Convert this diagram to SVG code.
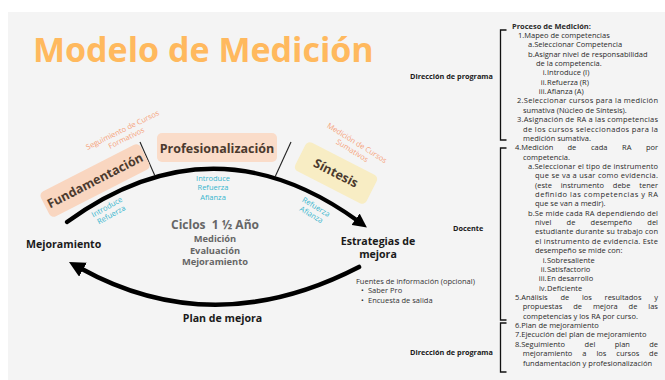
<svg xmlns="http://www.w3.org/2000/svg" width="665" height="380" viewBox="0 0 665 380">
<defs>
<style>
text{font-family:"Open Sans","Noto Sans","Liberation Sans",sans-serif}
.title{font-size:34px;font-weight:700;fill:#FFB95E}
.stage{font-size:12.5px;font-weight:700;fill:#4B3A2E;text-anchor:middle}
.note{font-size:7.5px;fill:#F5A27A;text-anchor:middle}
.blue{font-size:7.5px;fill:#36B4CE;text-anchor:middle}
.cyc{font-weight:700;fill:#666;text-anchor:middle}
.lab{font-size:10.6px;font-weight:700;fill:#1a1a1a}
.src{font-size:7.5px;fill:#333}
.li{font-size:7.5px;fill:#2a2a2a}
.bold{font-weight:700}
.role{font-size:7.3px;font-weight:700;fill:#1a1a1a}
.arc{fill:none;stroke:#000;stroke-linecap:round}
.tick{stroke:#222;stroke-width:1.1}
.br{fill:none;stroke:#111;stroke-width:1.3}
</style>
<marker id="ah" viewBox="0 0 14 14" refX="3" refY="7" markerWidth="14" markerHeight="14" markerUnits="userSpaceOnUse" orient="auto">
<path d="M0,0 L14,7 L0,14 z" fill="#000"/>
</marker>
<marker id="ah2" viewBox="0 0 14 14" refX="3" refY="7" markerWidth="16" markerHeight="16" markerUnits="userSpaceOnUse" orient="auto">
<path d="M0,0 L14,7 L0,14 z" fill="#000"/>
</marker>
</defs>
<rect x="0" y="0" width="665" height="380" fill="#fff"/>
<rect x="8" y="12" width="657" height="368" fill="#F4F4F4"/>
<text class="title" x="33" y="62">Modelo de Medición</text>

<g id="connectors">
<path class="arc" d="M67,222 Q213,116 358,221" stroke-width="4.2" marker-end="url(#ah)"/>
<path class="arc" d="M359,267 Q213.5,342 80,268" stroke-width="4.6" marker-end="url(#ah2)"/>
<line class="tick" x1="140" y1="142" x2="155" y2="176"/>
<line class="tick" x1="291" y1="142" x2="275" y2="177"/>
</g>

<g id="fundamentacion">
<rect x="-56" y="-14" width="112" height="28" rx="5" fill="#F9D6C0" transform="translate(95,180.5) rotate(-27)"/>
<text class="stage" transform="translate(95,180.5) rotate(-27)" x="0" y="4.5">Fundamentación</text>
</g>
<g id="profesionalizacion">
<rect x="157" y="133" width="120" height="29" rx="5" fill="#FADCC9"/>
<text class="stage" x="217" y="152.5">Profesionalización</text>
</g>
<g id="sintesis">
<rect x="-40" y="-16" width="80" height="32" rx="5" fill="#F8EDC4" transform="translate(336,173) rotate(27)"/>
<text class="stage" transform="translate(336,173) rotate(27)" x="0" y="4.5">Síntesis</text>
</g>

<g id="notes">
<g transform="translate(122.5,130) rotate(-26)">
<text class="note" x="0" y="2.5">Seguimiento de Cursos</text>
<text class="note" x="0" y="11.5">Formativos</text>
</g>
<g transform="translate(357,143) rotate(32)">
<text class="note" x="0" y="2.5">Medición de Cursos</text>
<text class="note" x="0" y="11.5">Sumativos</text>
</g>
<g transform="translate(107,207) rotate(-29)">
<text class="blue" x="0" y="2.5">Introduce</text>
<text class="blue" x="0" y="11.5">Refuerza</text>
</g>
<text class="blue" x="213" y="181">Introduce</text>
<text class="blue" x="213" y="190">Refuerza</text>
<text class="blue" x="213" y="199.5">Afianza</text>
<g transform="translate(316,207) rotate(31)">
<text class="blue" x="0" y="2.5">Refuerza</text>
<text class="blue" x="0" y="11.5">Afianza</text>
</g>
</g>

<g id="ciclos">
<text class="cyc" x="215" y="229" font-size="12" xml:space="preserve">Ciclos  1 ½ Año</text>
<text class="cyc" x="215" y="241.5" font-size="9.3">Medición</text>
<text class="cyc" x="215" y="253.5" font-size="9.3">Evaluación</text>
<text class="cyc" x="215" y="265" font-size="9.3">Mejoramiento</text>
</g>

<g id="mejoramiento"><text class="lab" x="26" y="247.5">Mejoramiento</text></g>
<g id="estrategias">
<text class="lab" x="378" y="244.5" text-anchor="middle">Estrategias de</text>
<text class="lab" x="378" y="258" text-anchor="middle">mejora</text>
</g>
<g id="plan"><text class="lab" x="222.5" y="321.5" text-anchor="middle">Plan de mejora</text></g>

<g id="fuentes">
<text class="src" x="356" y="284">Fuentes de información (opcional)</text>
<text class="src" x="361" y="293.3">•</text><text class="src" x="368" y="293.3">Saber Pro</text>
<text class="src" x="361" y="302.7">•</text><text class="src" x="368" y="302.7">Encuesta de salida</text>
</g>

<g id="roles">
<text class="role" x="410" y="79">Dirección de programa</text>
<text class="role" x="453" y="231">Docente</text>
<text class="role" x="410" y="354.5">Dirección de programa</text>
<path class="br" d="M506.5,30 H500.5 V140 H506.5"/>
<path class="br" d="M506.5,148 H500.5 V320 H506.5"/>
<path class="br" d="M506.5,323 H500.5 V372 H506.5"/>
</g>

<g id="proceso">
<text class="li bold" x="512" y="28.5">Proceso de Medición:</text>
<text class="li" x="518" y="37.9">1.Mapeo de competencias</text>
<text class="li" x="528" y="47.2">a.Seleccionar Competencia</text>
<text class="li" x="528" y="56.6">b.Asignar nivel de responsabilidad</text>
<text class="li" x="536" y="65.9">de la competencia.</text>
<text class="li" x="546.5" y="75.3" text-anchor="end">i.</text><text class="li" x="547" y="75.3">Introduce (I)</text>
<text class="li" x="546.5" y="84.7" text-anchor="end">ii.</text><text class="li" x="547" y="84.7">Refuerza (R)</text>
<text class="li" x="546.5" y="94" text-anchor="end">iii.</text><text class="li" x="547" y="94">Afianza (A)</text>
<text class="li" x="517" y="103.4" textLength="141" lengthAdjust="spacing">2.Seleccionar cursos para la medición</text>
<text class="li" x="523" y="112.7">sumativa (Núcleo de Síntesis).</text>
<text class="li" x="517" y="122.1" textLength="141" lengthAdjust="spacing">3.Asignación de RA a las competencias</text>
<text class="li" x="523" y="131.5" textLength="135" lengthAdjust="spacing">de los cursos seleccionados para la</text>
<text class="li" x="523" y="140.8">medición sumativa.</text>
<text class="li" y="150.2"><tspan x="515">4.Medición</tspan><tspan x="567.5">de</tspan><tspan x="591">cada</tspan><tspan x="622">RA</tspan><tspan x="646">por</tspan></text>
<text class="li" x="523" y="159.5">competencia.</text>
<text class="li" x="528" y="168.9" textLength="130" lengthAdjust="spacing">a.Seleccionar el tipo de instrumento</text>
<text class="li" x="535" y="178.3" textLength="123" lengthAdjust="spacing">que se va a usar como evidencia.</text>
<text class="li" y="187.6"><tspan x="535">(este</tspan><tspan x="560.7">instrumento</tspan><tspan x="612.8">debe</tspan><tspan x="639.3">tener</tspan></text>
<text class="li" x="535" y="197" textLength="123" lengthAdjust="spacing">definido las competencias y RA</text>
<text class="li" x="535" y="206.3">que se van a medir).</text>
<text class="li" x="528" y="215.7" textLength="130" lengthAdjust="spacing">b.Se mide cada RA dependiendo del</text>
<text class="li" y="225.1"><tspan x="535">nivel</tspan><tspan x="566.6">de</tspan><tspan x="590.6">desempeño</tspan><tspan x="647.3">del</tspan></text>
<text class="li" x="535" y="234.4" textLength="123" lengthAdjust="spacing">estudiante durante su trabajo con</text>
<text class="li" x="535" y="243.8" textLength="123" lengthAdjust="spacing">el instrumento de evidencia. Este</text>
<text class="li" x="535" y="253.1">desempeño se mide con:</text>
<text class="li" x="546.5" y="262.5" text-anchor="end">i.</text><text class="li" x="547" y="262.5">Sobresaliente</text>
<text class="li" x="546.5" y="271.9" text-anchor="end">ii.</text><text class="li" x="547" y="271.9">Satisfactorio</text>
<text class="li" x="546.5" y="281.2" text-anchor="end">iii.</text><text class="li" x="547" y="281.2">En desarrollo</text>
<text class="li" x="546.5" y="290.6" text-anchor="end">iv.</text><text class="li" x="547" y="290.6">Deficiente</text>
<text class="li" y="299.9"><tspan x="515">5.Análisis</tspan><tspan x="560.4">de</tspan><tspan x="581.9">los</tspan><tspan x="604.6">resultados</tspan><tspan x="654.2">y</tspan></text>
<text class="li" y="309.3"><tspan x="522.7">propuestas</tspan><tspan x="573.2">de</tspan><tspan x="592.9">mejora</tspan><tspan x="628.6">de</tspan><tspan x="648.3">las</tspan></text>
<text class="li" x="523" y="318.7">competencias y los RA por curso.</text>
<text class="li" x="515" y="328">6.Plan de mejoramiento</text>
<text class="li" x="515" y="337.4">7.Ejecución del plan de mejoramiento</text>
<text class="li" y="346.7"><tspan x="515">8.Seguimiento</tspan><tspan x="584.6">del</tspan><tspan x="614.7">plan</tspan><tspan x="649.2">de</tspan></text>
<text class="li" y="356.1"><tspan x="522.7">mejoramiento</tspan><tspan x="582.3">a</tspan><tspan x="596.4">los</tspan><tspan x="616.3">cursos</tspan><tspan x="649.1">de</tspan></text>
<text class="li" x="523" y="365.5">fundamentación y profesionalización</text>
</g>
</svg>
